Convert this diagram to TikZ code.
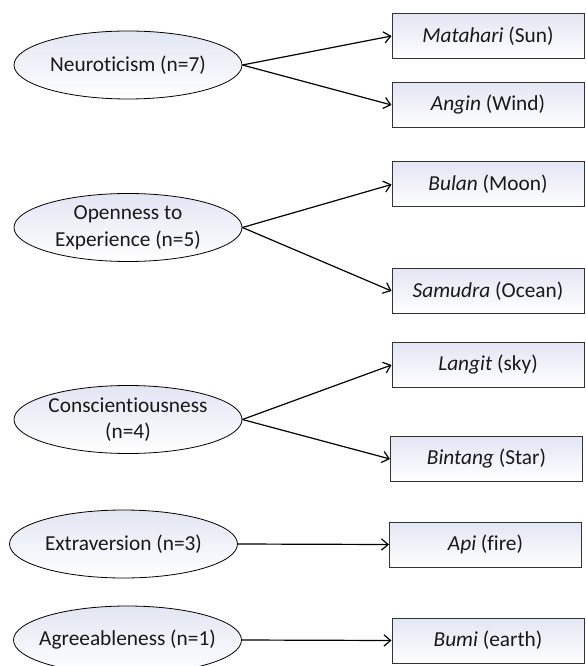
\documentclass[tikz,border=0pt]{standalone}
\usepackage{fontspec}
\setmainfont{Carlito}[Ligatures=NoCommon]
\usetikzlibrary{shapes.geometric,arrows.meta}

\definecolor{shadetop}{RGB}{226,230,243}
\definecolor{inkgray}{RGB}{25,25,25}

\tikzset{
  trait/.style={ellipse, draw=black, line width=0.6pt, top color=shadetop, bottom color=white,
    minimum width=171pt, minimum height=51pt, inner ysep=0pt, inner xsep=-14pt, align=center,
    text=inkgray, font=\fontsize{16}{20}\selectfont},
  symbolbox/.style={rectangle, draw=black!80, line width=0.75pt, top color=shadetop, bottom color=white,
    minimum width=144pt, minimum height=33.75pt, inner sep=0pt,
    text=inkgray, font=\fontsize{16}{20}\selectfont},
  link/.style={line width=0.9pt, -{Straight Barb[length=5pt,width=8.5pt]}}
}

\begin{document}
\begin{tikzpicture}[x=0.75pt,y=0.75pt,yscale=-1,xscale=1]
\useasboundingbox (0,0) rectangle (585,666);

% Shape: Ellipse (traits)
\node [trait] (neuro) at (128,65) {Neuroticism (n=7)};
\node [trait] (open) at (128,227.5) {Openness to\\Experience (n=5)};
\node [trait] (consc) at (128,419.5) {Conscientiousness\\(n=4)};
\node [trait] (extra) at (123.5,544) {Extraversion (n=3)};
\node [trait] (agree) at (127.5,640) {Agreeableness (n=1)};

% Shape: Rectangle (symbols)
\node [symbolbox] (sun) at (488,36) {\textit{Matahari} (Sun)};
\node [symbolbox] (wind) at (488,105) {\textit{Angin} (Wind)};
\node [symbolbox] (moon) at (488,184.5) {\textit{Bulan} (Moon)};
\node [symbolbox] (ocean) at (488,291) {\textit{Samudra} (Ocean)};
\node [symbolbox] (sky) at (488,365) {\textit{Langit} (sky)};
\node [symbolbox] (star) at (486.5,459) {\textit{Bintang} (Star)};
\node [symbolbox] (fire) at (485.5,544.5) {\textit{Api} (fire)};
\node [symbolbox] (earth) at (488,640.5) {\textit{Bumi} (earth)};

% Straight Lines
\draw [link] (neuro.east) -- (sun.west);
\draw [link] (neuro.east) -- (wind.west);
\draw [link] (open.east) -- (moon.west);
\draw [link] (open.east) -- (ocean.west);
\draw [link] (consc.east) -- (sky.west);
\draw [link] (consc.east) -- (star.west);
\draw [link] (extra.east) -- (fire.west);
\draw [link] (agree.east) -- (earth.west);

\end{tikzpicture}
\end{document}
